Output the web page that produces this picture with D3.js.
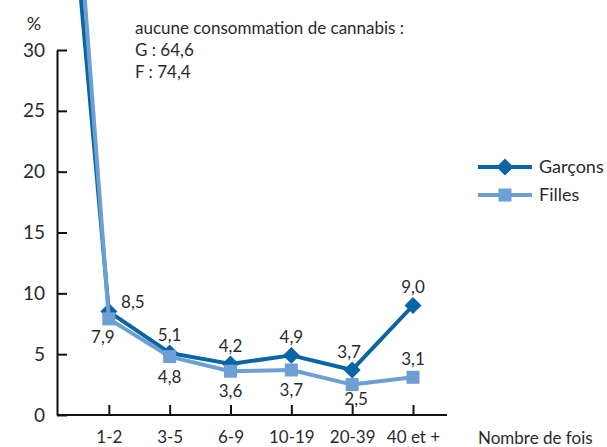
<!DOCTYPE html>
<html>
  <head>
    <script src="https://d3js.org/d3.v7.min.js" charset="utf-8"></script>
    <meta charset="UTF-8">
    <title>cannabis</title>
    <style>
      body { margin: 0; background: #fff; }
      svg text { font-family: Lato, "Open Sans", sans-serif; fill: #2a2a2a; }
      .axis path, .axis line { stroke: #111; stroke-width: 2; }
    </style>
  </head>
  <body>
    <svg class="chart"></svg>
    <script type="text/javascript">

     var width = 607,
         height = 447;

     // first category = "aucune consommation", drawn off the top
     var categories = ["0", "1-2", "3-5", "6-9", "10-19", "20-39", "40 et +"];
     var garcons = [64.6, 8.5, 5.1, 4.2, 4.9, 3.7, 9.0];
     var filles  = [74.4, 7.9, 4.8, 3.6, 3.7, 2.5, 3.1];
     var yTicks = [0, 5, 10, 15, 20, 25, 30];
     var garconsLabelPos = ["", "right", "above", "above", "above", "aboveleft", "above"];
     var fillesLabelPos  = ["", "belowleft", "below", "below", "below", "belowright", "above"];
     var noteLines = ["aucune consommation de cannabis :", "G : 64,6", "F : 74,4"];

     var darkBlue = "#0a65a6",
         lightBlue = "#6e9fd2";

     var chart = d3.select(".chart")
                   .attr("width", width)
                   .attr("height", height);

     var x = d3.scalePoint()
               .domain(categories)
               .range([48, 413]);

     var y = d3.scaleLinear()
               .domain([0, 30])
               .range([415, 50]);

     function fmt(v) { return d3.format(".1f")(v).replace(".", ","); }

     // axes
     var yAxis = chart.append("g")
                      .attr("class", "axis")
                      .attr("transform", "translate(57,0)")
                      .call(d3.axisLeft(y).tickValues(yTicks).tickSize(-10).tickSizeOuter(0).tickPadding(12).tickFormat(d3.format("d")));
     yAxis.attr("font-family", null);
     yAxis.selectAll("text").style("font-size", "19px").attr("fill", "#2a2a2a");

     var xAxis = chart.append("g")
                      .attr("class", "axis")
                      .attr("transform", "translate(0,415)")
                      .call(d3.axisBottom(x).tickValues(categories.slice(1)).tickSize(-10).tickPadding(16));
     xAxis.attr("font-family", null);
     xAxis.select(".domain").remove();
     xAxis.append("line").attr("x1", 57).attr("x2", 447).attr("y1", 0).attr("y2", 0);
     xAxis.selectAll("text").style("font-size", "17px").attr("fill", "#2a2a2a");

     chart.append("text")
          .attr("x", 34).attr("y", 24).attr("dy", "0.35em")
          .attr("text-anchor", "middle")
          .style("font-size", "18px")
          .text("%");

     chart.append("text")
          .attr("x", 478).attr("y", 438).attr("dy", "0.35em")
          .style("font-size", "17px")
          .text("Nombre de fois");

     chart.append("g").selectAll("text")
          .data(noteLines)
          .enter().append("text")
          .attr("x", 135)
          .attr("y", function(d, i) { return 28 + i * 22; })
          .attr("dy", "0.35em")
          .style("font-size", "17px")
          .text(function(d) { return d; });

     var line = d3.line()
                  .x(function(d, i) { return x(categories[i]); })
                  .y(function(d) { return y(d); });

     var series = [
         {name: "Garçons", values: garcons, color: darkBlue, marker: "diamond", pos: garconsLabelPos},
         {name: "Filles", values: filles, color: lightBlue, marker: "square", pos: fillesLabelPos}
     ];

     function marker(g, type, color) {
         if (type === "diamond") {
             g.append("rect").attr("x", -6).attr("y", -6).attr("width", 12).attr("height", 12)
              .attr("transform", "rotate(45)").attr("fill", color);
         } else {
             g.append("rect").attr("x", -6.5).attr("y", -6.5).attr("width", 13).attr("height", 13)
              .attr("fill", color);
         }
     }

     var offsets = {
         right: [24, -10],
         above: [0, -18],
         aboveleft: [-3, -18],
         below: [0, 20],
         belowleft: [-6, 18],
         belowright: [4, 14]
     };

     series.forEach(function(s) {
         var g = chart.append("g");
         g.append("path")
          .attr("d", line(s.values))
          .attr("fill", "none")
          .attr("stroke", s.color)
          .attr("stroke-width", 4)
          .attr("stroke-linejoin", "round");

         g.selectAll(".pt")
          .data(s.values)
          .enter().append("g")
          .attr("class", "pt")
          .attr("transform", function(d, i) { return "translate(" + x(categories[i]) + "," + y(d) + ")"; })
          .each(function() { marker(d3.select(this), s.marker, s.color); });
     });

     // value labels
     series.forEach(function(s) {
         chart.append("g").selectAll("text")
              .data(s.values.slice(1))
              .enter().append("text")
              .attr("x", function(d, i) { return x(categories[i + 1]) + offsets[s.pos[i + 1]][0]; })
              .attr("y", function(d, i) { return y(d) + offsets[s.pos[i + 1]][1]; })
              .attr("dy", "0.35em")
              .attr("text-anchor", "middle")
              .style("font-size", "17px")
              .text(fmt);
     });

     // legend
     var legend = chart.append("g").attr("transform", "translate(478,167)");
     series.forEach(function(s, i) {
         var row = legend.append("g").attr("transform", "translate(0," + (i * 28) + ")");
         row.append("line").attr("x1", 0).attr("x2", 54)
            .attr("stroke", s.color).attr("stroke-width", 4);
         var m = row.append("g").attr("transform", "translate(27,0)");
         marker(m, s.marker, s.color);
         row.append("text").attr("x", 61).attr("dy", "0.35em")
            .style("font-size", "18px")
            .text(s.name);
     });

    </script>
  </body>
</html>
